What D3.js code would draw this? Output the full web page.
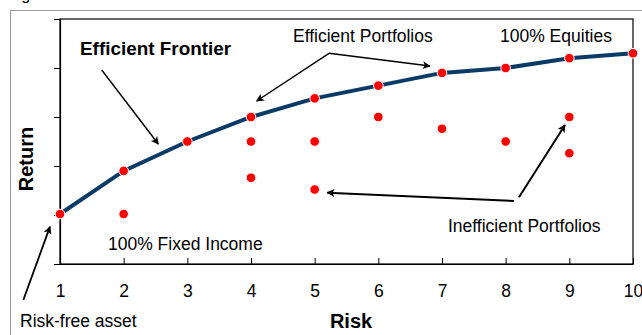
<!DOCTYPE html>
<html>
<head>
<meta charset="utf-8">
<script src="https://cdn.jsdelivr.net/npm/d3@7"></script>
<style>
  html, body { margin: 0; padding: 0; background: #fff; }
  svg { display: block; font-family: "Liberation Sans", Arial, sans-serif; }
</style>
</head>
<body>
<svg id="chart" width="642" height="335"></svg>
<script>
// Risk levels along the x axis
const riskTicks = [1, 2, 3, 4, 5, 6, 7, 8, 9, 10];

// Efficient frontier: return at each risk level
const frontierRisk   = [1, 2, 3, 4, 5, 6, 7, 8, 9, 10];
const frontierReturn = [5.1, 9.5, 12.5, 15, 16.9, 18.2, 19.5, 20, 21, 21.5];

// Inefficient portfolios
const inefficientRisk   = [2, 4, 4, 5, 5, 6, 7, 8, 9, 9];
const inefficientReturn = [5.1, 12.5, 8.8, 12.5, 7.6, 15, 13.8, 12.5, 15, 11.3];

// Return gridline positions (unlabelled)
const returnTicks = [0, 5, 10, 15, 20, 25];

// Annotation arrows, in risk/return units: [fromX, fromY, toX, toY]
const arrowSegments = [
  [1.655, 19.8, 2.544, 12.24],   // Efficient Frontier
  [5.225, 21.5, 4.089, 16.63],   // Efficient Portfolios (left)
  [5.225, 21.5, 6.811, 20.2],    // Efficient Portfolios (right)
  [8.13, 6.43, 5.198, 7.28],     // Inefficient Portfolios (left)
  [8.209, 6.81, 8.932, 14.18],   // Inefficient Portfolios (up)
  [0.424, -3.67, 0.843, 3.81]    // Risk-free asset
];
const arrowWidths = [1.4, 1.4, 1.4, 2, 2, 1.8];

const svg = d3.select("#chart");
const plotLeft = 60, plotRight = 633, plotTop = 19, plotBottom = 264;

const x = d3.scaleLinear().domain([1, 10]).range([plotLeft, plotRight]);
const y = d3.scaleLinear().domain([0, 25]).range([plotBottom, plotTop]);

// Partially visible caption above the chart area
svg.append("text").attr("x", 8).attr("y", -0.5)
  .attr("font-size", 16).attr("fill", "#000").text("Figure");

// Outer chart-area border
svg.append("rect").attr("x", 10.5).attr("y", 10.5)
  .attr("width", 700).attr("height", 400)
  .attr("fill", "none").attr("stroke", "#9a9a9a").attr("stroke-width", 1);

// Plot frame
svg.append("rect").attr("x", plotLeft).attr("y", plotTop)
  .attr("width", plotRight - plotLeft).attr("height", plotBottom - plotTop)
  .attr("fill", "none").attr("stroke", "#000").attr("stroke-width", 1.2);

// Y axis: outward ticks, no labels
svg.append("g").attr("transform", `translate(${plotLeft},0)`)
  .call(d3.axisLeft(y).tickValues(returnTicks).tickSize(6).tickFormat(""))
  .call(g => g.select(".domain").attr("stroke", "#000").attr("stroke-width", 1.2))
  .call(g => g.selectAll(".tick line").attr("stroke", "#000").attr("stroke-width", 1));

// X axis: inward ticks with labels below
svg.append("g").attr("transform", `translate(0,${plotBottom})`)
  .call(d3.axisBottom(x).tickValues(riskTicks).tickSizeInner(-6).tickSizeOuter(0)
    .tickPadding(0).tickFormat(d3.format("d")))
  .call(g => g.select(".domain").attr("stroke", "#000").attr("stroke-width", 1.2))
  .call(g => g.selectAll(".tick line").attr("stroke", "#000").attr("stroke-width", 1))
  .call(g => g.selectAll(".tick text")
    .attr("y", 33).attr("dy", null)
    .attr("font-size", 17.5).attr("font-family", "Liberation Sans, Arial, sans-serif")
    .attr("fill", "#000"));

// Axis titles
svg.append("text").attr("x", 351).attr("y", 328)
  .attr("text-anchor", "middle").attr("font-size", 20).attr("font-weight", "bold")
  .text("Risk");
svg.append("text").attr("transform", "translate(33,159) rotate(-90)")
  .attr("text-anchor", "middle").attr("font-size", 20).attr("font-weight", "bold")
  .text("Return");

// Frontier line
const frontier = frontierRisk.map((r, i) => [r, frontierReturn[i]]);
svg.append("path").datum(frontier)
  .attr("fill", "none").attr("stroke", "#0a3a66").attr("stroke-width", 4)
  .attr("d", d3.line().x(d => x(d[0])).y(d => y(d[1])));

// Points
const dot = (data) => svg.append("g").selectAll("circle").data(data).join("circle")
  .attr("cx", d => x(d[0])).attr("cy", d => y(d[1])).attr("r", 4.8)
  .attr("fill", "#ff0000").attr("stroke", "#fff").attr("stroke-width", 1);
dot(inefficientRisk.map((r, i) => [r, inefficientReturn[i]]));
dot(frontier);

// Arrowhead marker
svg.append("defs").append("marker")
  .attr("id", "head").attr("viewBox", "0 0 10 10")
  .attr("refX", 9).attr("refY", 5)
  .attr("markerUnits", "userSpaceOnUse")
  .attr("markerWidth", 9).attr("markerHeight", 8)
  .attr("orient", "auto")
  .append("path").attr("d", "M0,0 L10,5 L0,10 L2.5,5 Z").attr("fill", "#000");

svg.append("g").selectAll("line").data(arrowSegments).join("line")
  .attr("x1", d => x(d[0])).attr("y1", d => y(d[1]))
  .attr("x2", d => x(d[2])).attr("y2", d => y(d[3]))
  .attr("stroke", "#000").attr("stroke-width", (d, i) => arrowWidths[i])
  .attr("marker-end", "url(#head)");

// Annotation labels
const notes = [
  { text: "Efficient Frontier", x: 80, y: 55, bold: true, size: 18.9 },
  { text: "Efficient Portfolios", x: 293, y: 41.7, size: 17.5 },
  { text: "100% Equities", x: 500, y: 41.7, size: 17.5 },
  { text: "100% Fixed Income", x: 108, y: 250, size: 17.5 },
  { text: "Inefficient Portfolios", x: 448, y: 231.7, size: 17.5 },
  { text: "Risk-free asset", x: 20, y: 326.7, size: 17.5 }
];
svg.append("g").selectAll("text").data(notes).join("text")
  .attr("x", d => d.x).attr("y", d => d.y)
  .attr("font-size", d => d.size)
  .attr("font-weight", d => d.bold ? "bold" : "normal")
  .attr("fill", "#000")
  .text(d => d.text);
</script>
</body>
</html>
